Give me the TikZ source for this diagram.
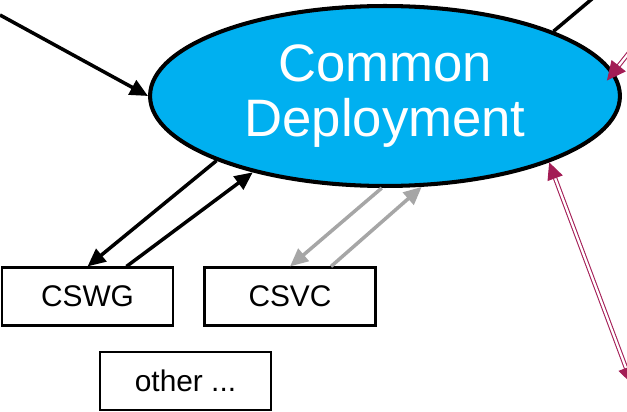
\documentclass[tikz,border=0pt]{standalone}
\usepackage{fontspec}
\setmainfont{Liberation Sans}
\usetikzlibrary{shapes.geometric,arrows.meta}
\definecolor{deployblue}{RGB}{0,176,240}
\definecolor{linkmagenta}{RGB}{163,29,85}
\definecolor{linkgray}{RGB}{166,166,166}
\tikzset{
  toolbox/.style={draw, line width=1.2pt, minimum width=3.42cm, minimum height=1.16cm, inner sep=0pt, font=\fontsize{17}{18}\selectfont},
  flow/.style={line width=2pt, -{Triangle[length=0.36cm,width=0.32cm]}},
  dbl/.style={linkmagenta, line width=0.6pt, double=white, double distance=1.3pt}
}
\begin{document}
\begin{tikzpicture}[x=0.02cm,y=-0.02cm]
\clip (0,0) rectangle (627,412);
\node[ellipse, draw, line width=2.3pt, fill=deployblue, minimum width=9.4cm, minimum height=3.6cm,
  inner sep=0pt, text=white, align=center, font=\fontsize{30}{31.5}\selectfont] (deploy) at (385,96) {Common\\Deployment};
\node[toolbox] (cswg) at (87.5,296.5) {CSWG};
\node[toolbox] (csvc) at (290,296.5) {CSVC};
\node[toolbox] (other) at (185.5,381) {other ...};
% loose ends running out of the frame
\coordinate (inleft) at (0,15);
\coordinate (outtop) at (605,-12);
\coordinate (magtop) at (655,20);
\coordinate (magbottom) at (632,384);
\draw[flow] (inleft) -- (deploy.180);
\draw[line width=2pt] (deploy.21.5) -- (outtop);
\draw[flow] (deploy.201) -- (cswg.north);
\draw[flow] ([xshift=0.78cm]cswg.north) -- (deploy.210);
\draw[flow, linkgray] (deploy.268) -- (csvc.north);
\draw[flow, linkgray] ([xshift=0.82cm]csvc.north) -- (deploy.292.5);
\draw[dbl, -{Triangle[length=0.38cm,width=0.36cm]}, shorten >=-0.22cm] (magtop) -- (deploy.6.8);
\draw[dbl, {Triangle[length=0.34cm,width=0.32cm]}-{Triangle[length=0.34cm,width=0.32cm]}] (deploy.338.7) -- (magbottom);
\end{tikzpicture}
\end{document}
